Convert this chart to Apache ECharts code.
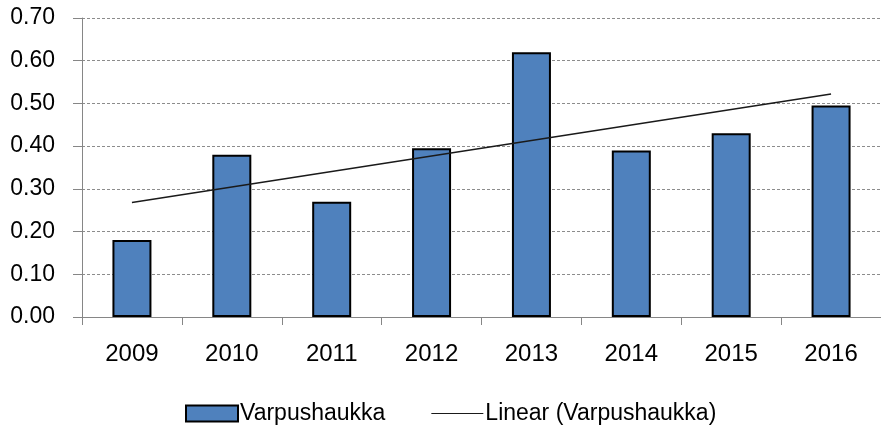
<!DOCTYPE html>
<html>
<head>
<meta charset="utf-8">
<script src="https://cdn.jsdelivr.net/npm/echarts@6/dist/echarts.min.js"></script>
<style>
html,body{margin:0;padding:0;background:#fff;}
#chart{width:881px;height:426px;}
</style>
</head>
<body>
<div id="chart"></div>
<script>
var years = ['2009','2010','2011','2012','2013','2014','2015','2016'];
var varpushaukka = [0.18, 0.38, 0.27, 0.395, 0.62, 0.39, 0.43, 0.495];
var trendValues = [0.268, null, null, null, null, null, null, 0.522];
var yTicks = {min: 0, max: 0.7, interval: 0.1};

var FONT = '"Liberation Sans", Arial, sans-serif';
var chart = echarts.init(document.getElementById('chart'), null, {renderer: 'canvas'});
chart.setOption({
  animation: false,
  backgroundColor: '#ffffff',
  grid: {left: 82, top: 18, width: 804, bottom: 109, containLabel: false},
  xAxis: {
    type: 'category',
    data: years,
    boundaryGap: true,
    axisLine: {show: true, lineStyle: {color: '#868686', width: 1}},
    axisTick: {show: true, alignWithLabel: false, length: 8, lineStyle: {color: '#868686'}},
    axisLabel: {color: '#000000', fontFamily: FONT, fontSize: 24, margin: 25}
  },
  yAxis: {
    type: 'value',
    min: yTicks.min, max: yTicks.max, interval: yTicks.interval,
    axisLine: {show: true, lineStyle: {color: '#868686', width: 1}},
    axisTick: {show: true, length: 9, inside: false, lineStyle: {color: '#868686'}},
    axisLabel: {color: '#000000', fontFamily: FONT, fontSize: 23, margin: 27,
      formatter: function(v){ return v.toFixed(2); }},
    splitLine: {show: true, lineStyle: {color: '#8c8c8c', type: [3, 2], width: 1}}
  },
  legend: {
    left: 180, top: 397,
    itemGap: 46, itemWidth: 52, itemHeight: 16,
    textStyle: {color: '#000000', fontFamily: FONT, fontSize: 23, padding: [0,0,0,-3]},
    data: [
      {name: 'Varpushaukka', icon: 'rect'},
      {name: 'Linear (Varpushaukka)', icon: 'path://M0,0 L100,0 L100,2 L0,2 Z', itemStyle: {color: '#1a1a1a'}}
    ]
  },
  series: [
    {
      name: 'Varpushaukka',
      type: 'bar',
      data: varpushaukka,
      barWidth: 39,
      itemStyle: {color: '#4f81bd', borderColor: '#000000', borderWidth: 2}
    },
    {
      name: 'Linear (Varpushaukka)',
      type: 'line',
      data: trendValues,
      connectNulls: true,
      symbol: 'none',
      lineStyle: {color: '#1a1a1a', width: 1.4},
      itemStyle: {color: '#1a1a1a'},
      z: 5
    }
  ]
});
</script>
</body>
</html>
